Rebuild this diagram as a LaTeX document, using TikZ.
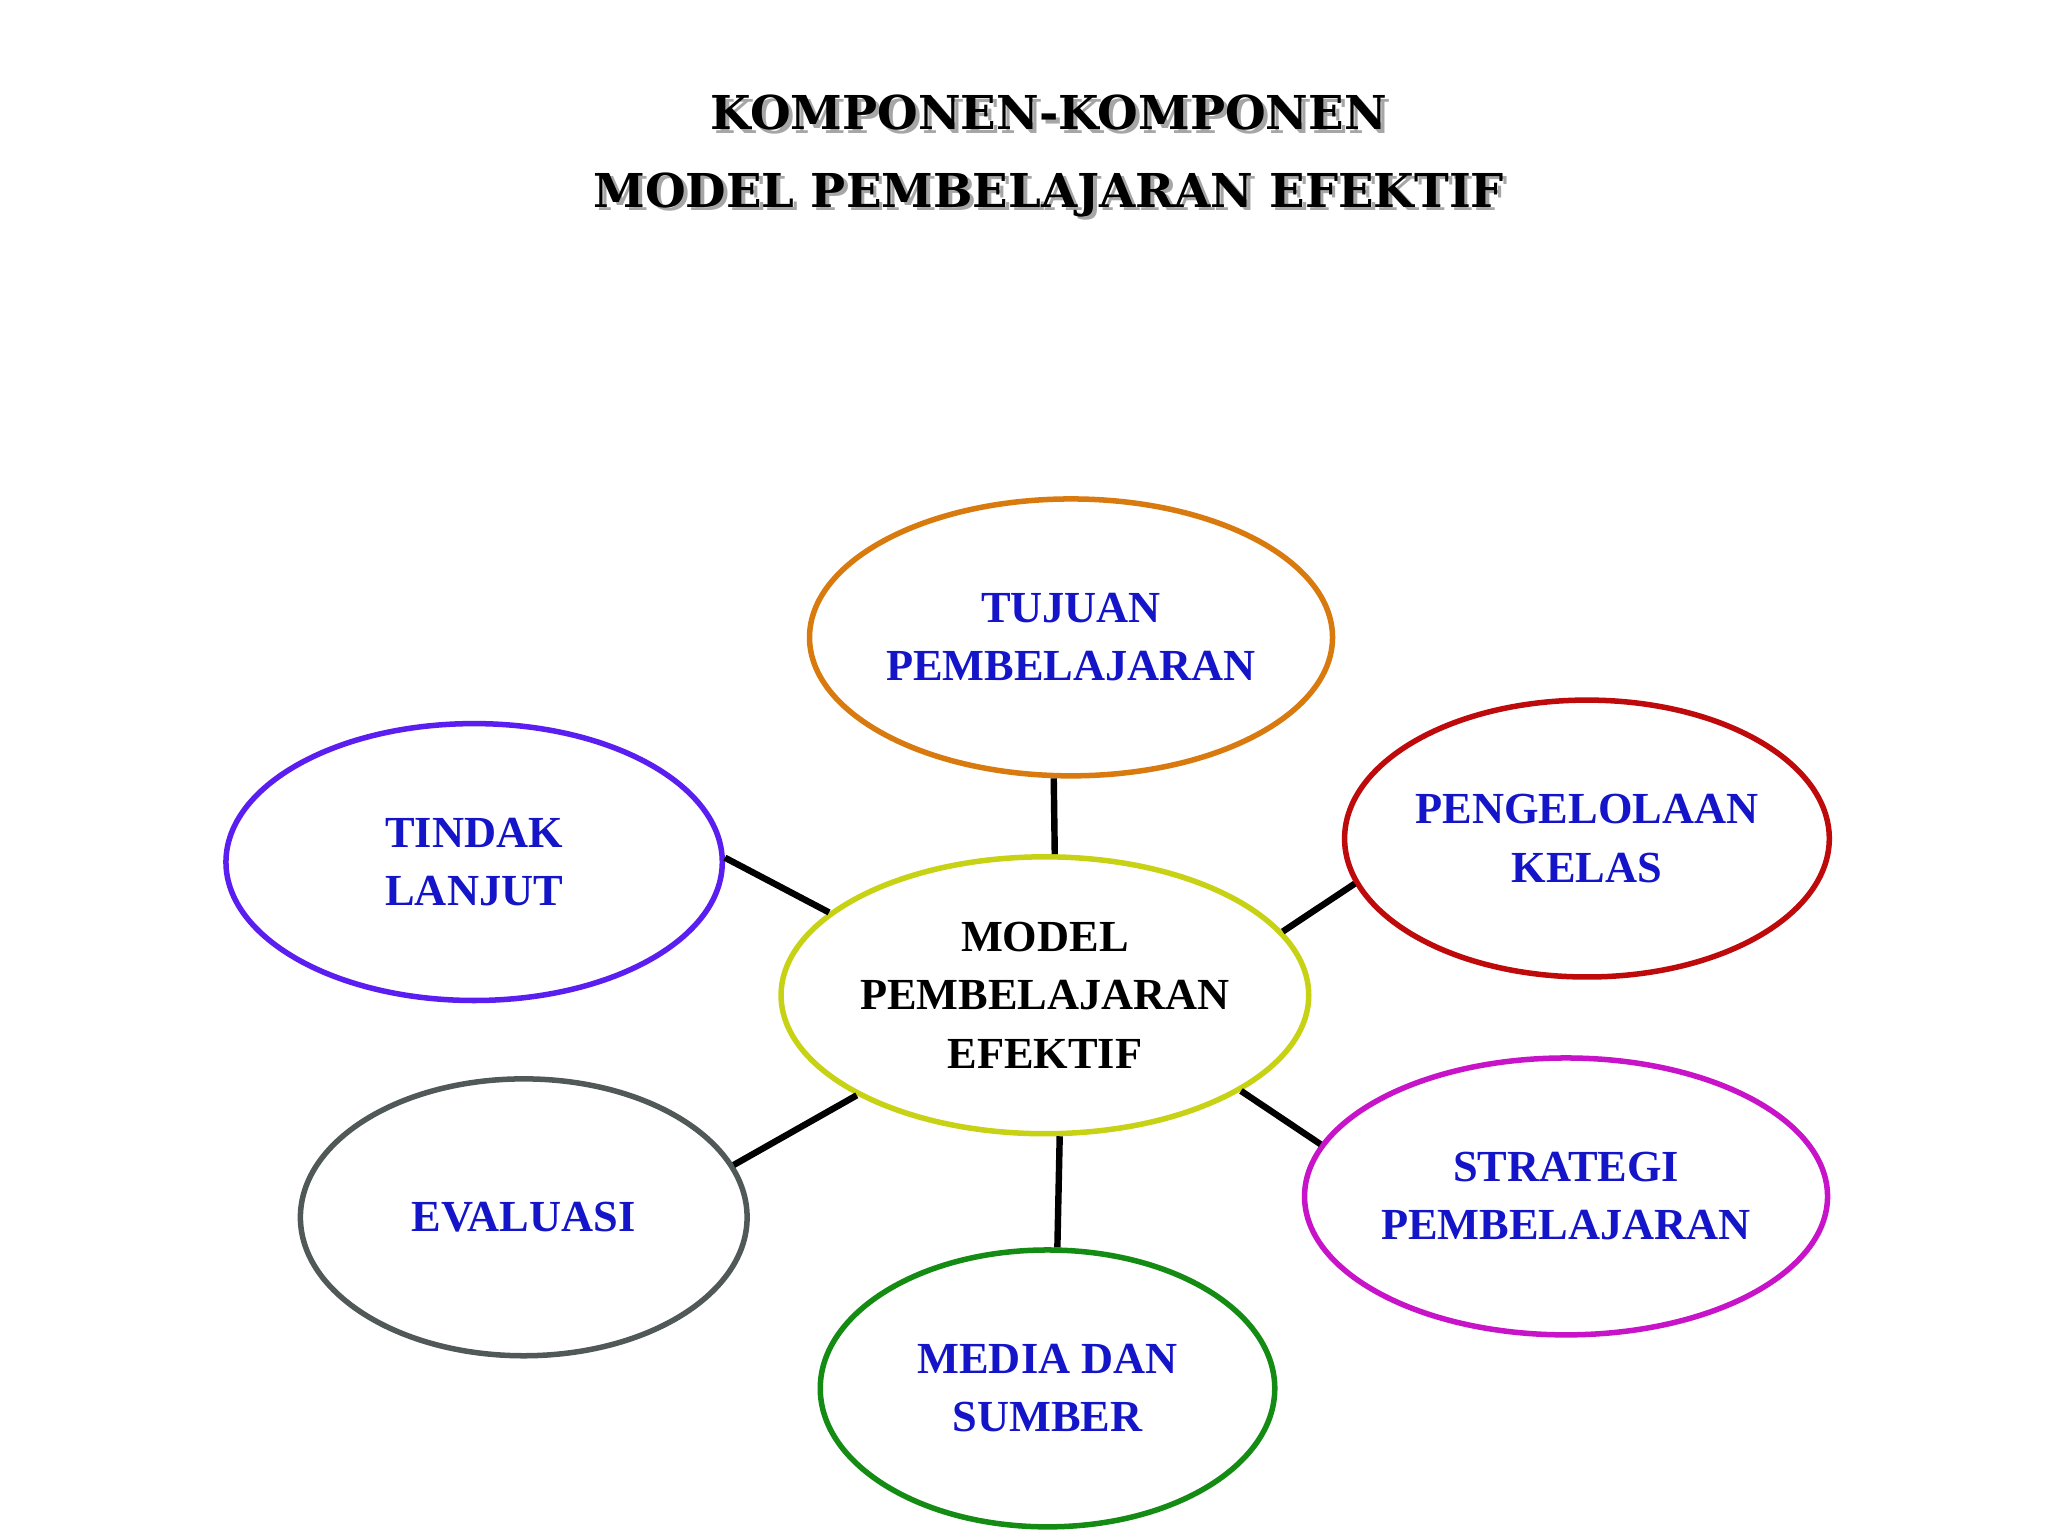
\documentclass[tikz,border=0pt]{standalone}
\usepackage{fontspec}
\setmainfont{Liberation Serif}
\newfontfamily\titlefont{DejaVu Serif}
\usetikzlibrary{shapes.geometric}
\definecolor{txtblue}{HTML}{1414C8}
\tikzset{
  comp/.style={ellipse, draw, line width=3.6pt, inner sep=0pt, align=center,
    font=\fontsize{29}{38}\selectfont\bfseries, text=txtblue},
  link/.style={line width=4.2pt, black},
  ttl/.style={font=\titlefont\fontsize{30.5}{36}\selectfont\bfseries}
}
\begin{document}
\begin{tikzpicture}[x=0.03cm,y=-0.03cm]
\useasboundingbox (0,0) rectangle (1568,1176);
\fill[white] (0,0) rectangle (1568,1176);
\node[ttl,text=gray!70] at (806,89) {KOMPONEN-KOMPONEN};
\node[ttl] (t1) at (803,86) {KOMPONEN-KOMPONEN};
\node[ttl,text=gray!70] at (806,152) {MODEL PEMBELAJARAN EFEKTIF};
\node[ttl] (t2) at (803,149) {MODEL PEMBELAJARAN EFEKTIF};

\node[comp, draw={rgb,255:red,200;green,210;blue,20}, text=black, minimum width=404*0.03cm, minimum height=212*0.03cm] (c) at (800,762) {MODEL\\PEMBELAJARAN\\EFEKTIF};
\node[comp, draw={rgb,255:red,217;green,122;blue,15}, minimum width=378*0.03cm, minimum height=212*0.03cm] (tu) at (820,488) {TUJUAN\\PEMBELAJARAN};
\node[comp, draw={rgb,255:red,190;green,10;blue,10}, minimum width=350*0.03cm, minimum height=212*0.03cm] (pk) at (1215,642) {PENGELOLAAN\\KELAS};
\node[comp, draw={rgb,255:red,200;green,20;blue,200}, minimum width=368*0.03cm, minimum height=212*0.03cm] (st) at (1199,916) {STRATEGI\\PEMBELAJARAN};
\node[comp, draw={rgb,255:red,20;green,140;blue,20}, minimum width=348*0.03cm, minimum height=212*0.03cm] (me) at (802,1063) {MEDIA DAN\\SUMBER};
\node[comp, draw={rgb,255:red,80;green,88;blue,88}, minimum width=342*0.03cm, minimum height=212*0.03cm] (ev) at (401,932) {EVALUASI};
\node[comp, draw={rgb,255:red,90;green,30;blue,240}, minimum width=380*0.03cm, minimum height=212*0.03cm] (ti) at (363,660) {TINDAK\\LANJUT};

\draw[link] (c.86) -- (tu.263);
\draw[link] (c.15.4) -- (pk.191.7);
\draw[link] (c.-26.3) -- (st.168.8);
\draw[link] (c.276) -- (me.86);
\draw[link] (c.208) -- (ev.14);
\draw[link] (c.159) -- (ti.1);
\end{tikzpicture}
\end{document}
